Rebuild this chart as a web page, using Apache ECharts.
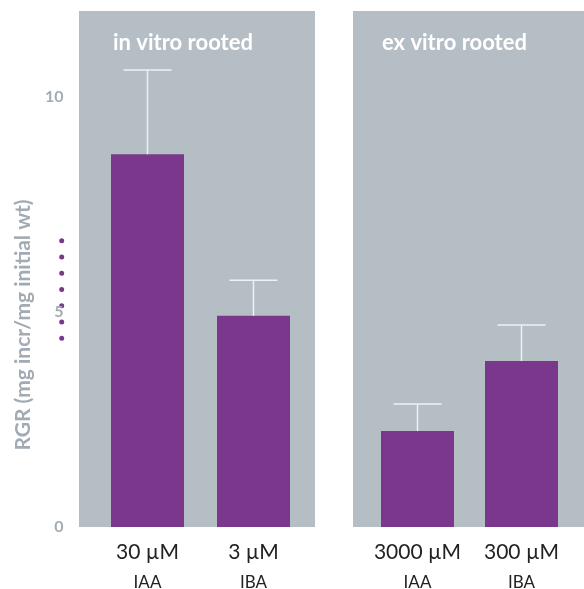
<!DOCTYPE html>
<html>
<head>
<meta charset="utf-8">
<script src="https://cdn.jsdelivr.net/npm/echarts@6/dist/echarts.min.js"></script>
<style>html,body{margin:0;padding:0;background:#fff;}#c{width:584px;height:589px;}</style>
</head>
<body>
<div id="c"></div>
<script>
const panelTitles = ["in vitro rooted", "ex vitro rooted"];
const concLeft = ["30 µM", "3 µM"];
const concRight = ["3000 µM", "300 µM"];
const hormones = ["IAA", "IBA"];
const rgrLeft = [8.67, 4.91];
const rgrRight = [2.23, 3.86];
const errTopLeft = [10.63, 5.74];
const errTopRight = [2.86, 4.70];
const yTicks = [0, 5, 10];
const yTitle = "RGR (mg incr/mg initial wt)";

const GRAY = "#b6bec5";
const PURPLE = "#7b378c";
const FONT = "Lato, 'Noto Sans', sans-serif";

const chart = echarts.init(document.getElementById('c'), null, {renderer: 'canvas'});

function errSeries(idx, tops) {
  return {
    type: 'custom', xAxisIndex: idx, yAxisIndex: idx, z: 5,
    data: tops.map((t, i) => [i, t]),
    renderItem: function (params, api) {
      const base = api.coord([api.value(0), (idx === 0 ? rgrLeft : rgrRight)[api.value(0)]]);
      const top = api.coord([api.value(0), api.value(1)]);
      const hw = 24;
      return {
        type: 'group',
        children: [
          {type: 'line', shape: {x1: top[0], y1: top[1], x2: base[0], y2: base[1]}, style: {stroke: '#eef1f3', lineWidth: 1.5}},
          {type: 'line', shape: {x1: top[0] - hw, y1: top[1], x2: top[0] + hw, y2: top[1]}, style: {stroke: '#eef1f3', lineWidth: 1.5}}
        ]
      };
    }
  };
}

function xLabel(cats) {
  return {
    interval: 0, margin: 12,
    formatter: function (v, i) { return '{a|' + v + '}\n{b|' + hormones[i] + '}'; },
    rich: {
      a: {fontFamily: FONT, fontSize: 21, color: '#222', lineHeight: 26},
      b: {fontFamily: FONT, fontSize: 17, color: '#222', lineHeight: 36}
    }
  };
}

const option = {
  animation: false,
  backgroundColor: '#fff',
  graphic: [
    {type: 'rect', shape: {x: 79, y: 11, width: 236, height: 516}, style: {fill: GRAY}, z: -10},
    {type: 'rect', shape: {x: 353, y: 11, width: 231, height: 516}, style: {fill: GRAY}, z: -10},
    {type: 'text', x: 113, y: 43, style: {text: panelTitles[0], fontFamily: 'Lato', fontWeight: 'bold', fontSize: 22, fill: '#fff', verticalAlign: 'middle'}},
    {type: 'text', x: 382, y: 43, style: {text: panelTitles[1], fontFamily: 'Lato', fontWeight: 'bold', fontSize: 22, fill: '#fff', verticalAlign: 'middle'}},
    {type: 'text', x: 23, y: 325, rotation: Math.PI / 2, style: {text: yTitle, fontFamily: 'Lato', fontWeight: 'bold', fontSize: 21, fill: '#a2abb3', align: 'center', verticalAlign: 'middle'}},
    {type: 'line', shape: {x1: 61.7, y1: 240.7, x2: 61.7, y2: 340}, style: {stroke: PURPLE, lineWidth: 5, lineCap: 'round', lineDash: [0, 16.25]}}
  ],
  grid: [
    {left: 94.5, width: 212, top: 11, height: 516, containLabel: false, outerBoundsMode: 'none'},
    {left: 365.5, width: 208, top: 11, height: 516, containLabel: false, outerBoundsMode: 'none'}
  ],
  xAxis: [
    {type: 'category', gridIndex: 0, data: concLeft, axisLine: {show: false}, axisTick: {show: false}, axisLabel: xLabel(concLeft)},
    {type: 'category', gridIndex: 1, data: concRight, axisLine: {show: false}, axisTick: {show: false}, axisLabel: xLabel(concRight)}
  ],
  yAxis: [
    {type: 'value', gridIndex: 0, min: 0, max: 12, interval: 5, splitLine: {show: false}, axisLine: {show: false}, axisTick: {show: false},
     axisLabel: {margin: 31, fontFamily: FONT, fontWeight: 'bold', fontSize: 16, color: '#a2abb3', padding: [0, 0, 4, 0],
       formatter: function (v) { return yTicks.indexOf(v) >= 0 ? String(v) : ''; }}},
    {type: 'value', gridIndex: 1, min: 0, max: 12, interval: 5, show: false, splitLine: {show: false}}
  ],
  series: [
    {type: 'bar', xAxisIndex: 0, yAxisIndex: 0, data: rgrLeft, barWidth: 73, itemStyle: {color: PURPLE}},
    {type: 'bar', xAxisIndex: 1, yAxisIndex: 1, data: rgrRight, barWidth: 73, itemStyle: {color: PURPLE}},
    errSeries(0, errTopLeft),
    errSeries(1, errTopRight)
  ]
};
chart.setOption(option);
</script>
</body>
</html>
